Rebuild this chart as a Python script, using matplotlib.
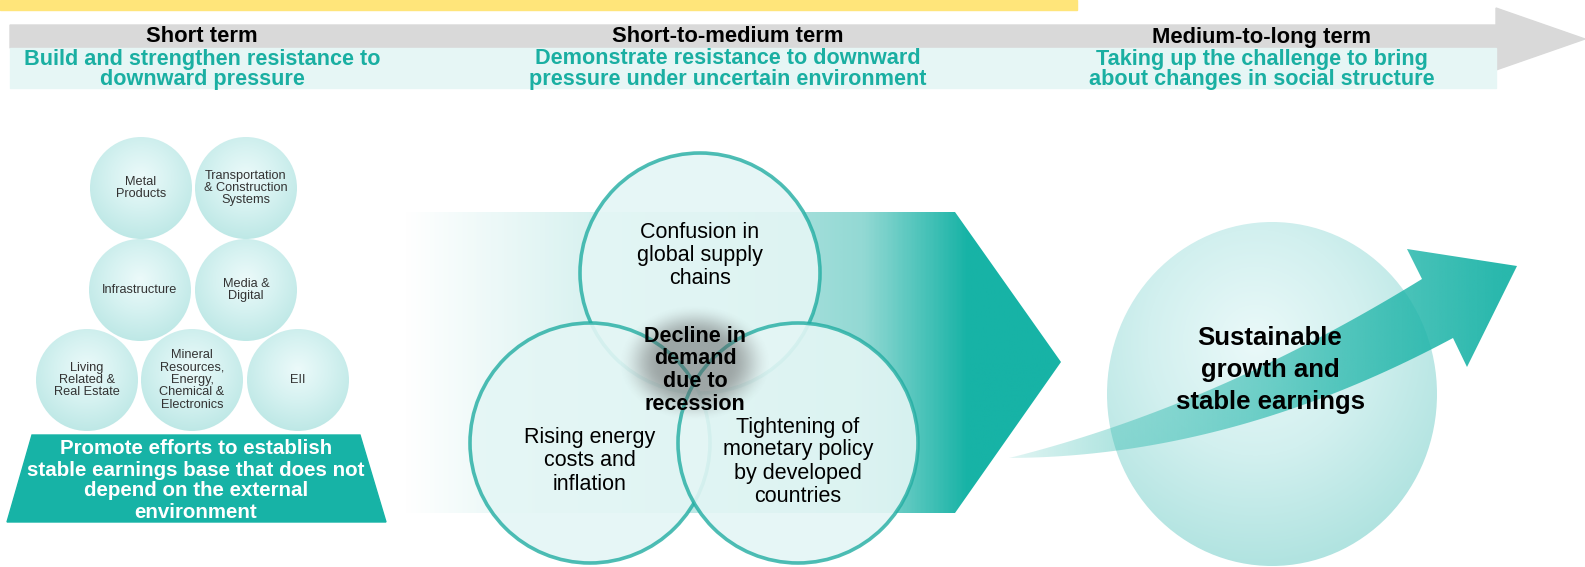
import numpy as np
import matplotlib.pyplot as plt
from matplotlib.patches import Polygon, Ellipse, Rectangle
from matplotlib.colors import LinearSegmentedColormap, to_rgb

# ---- text content ----
period_titles = ["Short term", "Short-to-medium term", "Medium-to-long term"]
period_goals = [
    ["Build and strengthen resistance to", "downward pressure"],
    ["Demonstrate resistance to downward", "pressure under uncertain environment"],
    ["Taking up the challenge to bring", "about changes in social structure"],
]
segments = ["Metal\nProducts", "Transportation\n& Construction\nSystems",
            "Infrastructure", "Media &\nDigital",
            "Living\nRelated &\nReal Estate",
            "Mineral\nResources,\nEnergy,\nChemical &\nElectronics", "EII"]
base_lines = ["Promote efforts to establish", "stable earnings base that does not",
              "depend on the external", "environment"]
risk_lines = [["Confusion in", "global supply", "chains"],
              ["Rising energy", "costs and", "inflation"],
              ["Tightening of", "monetary policy", "by developed", "countries"]]
core_lines = ["Decline in", "demand", "due to", "recession"]
goal_lines = ["Sustainable", "growth and", "stable earnings"]

# ---- layout (pixels) ----
W, H = 1585, 567
title_x = [202, 728, 1262]
bubble_xy = [(141, 188), (246, 188), (140, 290), (246, 290), (87, 380), (192, 380), (298, 380)]
bubble_r = 51
venn_xy = [(700, 273), (590, 443), (798, 443)]
venn_r = 120
risk_y0 = [233, 438, 427]

TEAL = "#17B3A6"
TEAL_TXT = "#1AAFA2"
FONT = "Liberation Sans"

fig = plt.figure(figsize=(W / 100, H / 100), dpi=100)
ax = fig.add_axes([0, 0, 1, 1])
ax.set_xlim(0, W)
ax.set_ylim(H, 0)
ax.axis("off")


def radial_fill(cx, cy, rx, ry, colors, z, focus=(0.0, -0.2)):
    n = 300
    yy, xx = np.mgrid[-1:1:n * 1j, -1:1:n * 1j]
    d = np.hypot(xx - focus[0], yy - focus[1]) / (1 + np.hypot(*focus))
    cmap = LinearSegmentedColormap.from_list("r", colors)
    im = ax.imshow(np.clip(d, 0, 1), cmap=cmap, vmin=0, vmax=1, aspect="auto",
                   extent=[cx - rx, cx + rx, cy + ry, cy - ry], zorder=z,
                   interpolation="bilinear")
    im.set_clip_path(Ellipse((cx, cy), 2 * rx, 2 * ry, transform=ax.transData))


# top yellow strip and timeline arrow
ax.add_patch(Rectangle((0, 0), 1077, 10, color="#FFE57A", zorder=1))
ax.add_patch(Polygon([(10, 25), (1496, 25), (1496, 8), (1585, 39), (1496, 70), (1496, 48), (10, 48)],
                     closed=True, color="#D9D9D9", zorder=1))
ax.add_patch(Rectangle((10, 48), 1486, 40, color="#E6F6F5", zorder=2))
for i, t in enumerate(period_titles):
    ax.text(title_x[i], 37, t, ha="center", va="center", fontsize=15.8, fontweight="bold",
            family=FONT, color="black", zorder=5)
    for j, line in enumerate(period_goals[i]):
        ax.text(title_x[i], 59 + 21 * j, line, ha="center", va="center", fontsize=15.6,
                fontweight="bold", family=FONT, color=TEAL_TXT, zorder=5)

# left: business segment bubbles
for (cx, cy), lab in zip(bubble_xy, segments):
    radial_fill(cx, cy, bubble_r, bubble_r, ["#ECFAFA", "#D6F2F1", "#BEE8E6"], 3)
    ax.text(cx, cy, lab, ha="center", va="center", fontsize=9.2, family=FONT,
            color="#333333", linespacing=1.05, zorder=5)

ax.add_patch(Polygon([(32, 435), (360, 435), (386, 522), (7, 522)], closed=True,
                     color=TEAL, zorder=3))
for j, line in enumerate(base_lines):
    ax.text(196, 449 + 21 * j, line, ha="center", va="center", fontsize=14.8,
            fontweight="bold", family=FONT, color="white", zorder=5)

# middle: gradient chevron
chev = Polygon([(404, 212), (955, 212), (1061, 362), (955, 513), (404, 513)], closed=True,
               transform=ax.transData)
grad = LinearSegmentedColormap.from_list(
    "g", [(0, "#FFFFFF"), (0.3, "#D6F1EF"), (0.7, "#93D9D4"), (0.86, TEAL), (1, TEAL)])
im = ax.imshow(np.linspace(0, 1, 400)[None, :], cmap=grad, aspect="auto",
               extent=[404, 1061, 513, 212], zorder=2, interpolation="bilinear")
im.set_clip_path(chev)

# venn of risks
for (cx, cy) in venn_xy:
    ax.add_patch(Ellipse((cx, cy), 2 * venn_r, 2 * venn_r, fc="#E4F6F5", alpha=0.9,
                         ec="none", zorder=3))
    ax.add_patch(Ellipse((cx, cy), 2 * venn_r, 2 * venn_r, fc="none", ec="#22ADA2",
                         lw=2.6, alpha=0.8, zorder=3))

# soft grey core
n = 200
yy, xx = np.mgrid[-1:1:n * 1j, -1:1:n * 1j]
dd = np.clip((np.hypot(xx, yy) - 0.45) / 0.55, 0, 1)
rgba = np.zeros((n, n, 4))
rgba[..., :3] = to_rgb("#5E5E5E")
rgba[..., 3] = 0.52 * (1 - dd * dd * (3 - 2 * dd))
ax.imshow(rgba, extent=[618, 772, 422, 304], aspect="auto", zorder=3.5, interpolation="bilinear")

for (cx, _), y0, lines in zip(venn_xy, risk_y0, risk_lines):
    for j, line in enumerate(lines):
        ax.text(cx, y0 + 23 * j, line, ha="center", va="center",
                fontsize=15.5, family=FONT, color="black", zorder=6)
for j, line in enumerate(core_lines):
    ax.text(695, 336 + 22.8 * j, line, ha="center", va="center", fontsize=15.5,
            fontweight="bold", family=FONT, color="black", zorder=6)

# right: goal sphere with curved arrow
radial_fill(1272, 394, 165, 172, ["#EAF9F9", "#D2F0EF", "#B0E3E0"], 2, focus=(-0.1, -0.3))

up = [(1009, 458), (1214, 407), (1422, 279)]
lo = [(1009, 458), (1231, 457), (1453, 338)]
tt = np.linspace(0, 1, 60)[:, None]


def bez(p):
    p = np.array(p, float)
    return (1 - tt) ** 2 * p[0] + 2 * (1 - tt) * tt * p[1] + tt ** 2 * p[2]


shape = np.vstack([bez(up), [(1407, 249), (1517, 266), (1467, 367)], bez(lo)[::-1]])
arrow = Polygon(shape, closed=True, transform=ax.transData)
rgba2 = np.zeros((1, 400, 4))
rgba2[..., :3] = to_rgb("#1DB4A8")
xs = np.linspace(0, 1, 400)
rgba2[0, :, 3] = np.clip(0.12 + 0.85 * xs ** 0.85, 0, 0.95)
im2 = ax.imshow(rgba2, extent=[1009, 1517, 470, 245], aspect="auto", zorder=3,
                interpolation="bilinear")
im2.set_clip_path(arrow)

for j, line in enumerate(goal_lines):
    ax.text(1270, 338 + 32 * j, line, ha="center", va="center", fontsize=18.5,
            fontweight="bold", family=FONT, color="black", zorder=6)

ax.set_xlim(0, W)
ax.set_ylim(H, 0)
fig.savefig("out.png", dpi=100)
